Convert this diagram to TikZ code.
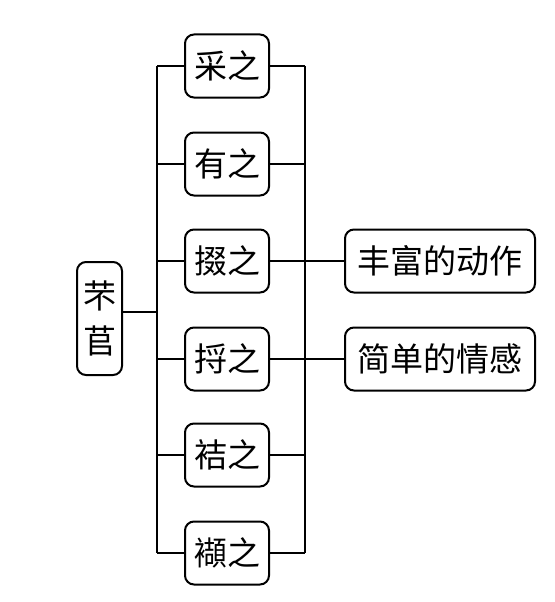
\documentclass[tikz,border=0pt]{standalone}
\usepackage{fontspec}
\newfontfamily\cjk{Noto Sans CJK SC}
\usepackage{tikz}
\tikzset{
    box/.style={draw, rounded corners=9pt, line width=2pt, inner sep=0pt,
        minimum height=63pt, font=\cjk\fontsize{33}{45}\selectfont},
    short/.style={box, minimum width=84pt},
    long/.style={box, minimum width=190pt},
    wire/.style={line width=2pt}
}

\begin{document}
\begin{tikzpicture}[x=1pt, y=-1pt]
        \useasboundingbox (0,0) rectangle (554,602);
        \coordinate (lb) at (157,0); % left bus
        \coordinate (rb) at (305,0); % right bus
        \node[box, minimum width=45pt, minimum height=113pt, align=center] (root) at (99.5,318.5) {芣\\苢};
        \foreach \name/\txt/\y in {c1/采之/66, c2/有之/164, c3/掇之/261, c4/捋之/359, c5/袺之/455, c6/襭之/553} {
            \node[short] (\name) at (227,\y) {\txt};
            \draw[wire] (\name.west) -- (\name.west -| lb);
            \draw[wire] (\name.east) -- (\name.east -| rb);
        }
        \node[long] (d1) at (440,261) {丰富的动作};
        \node[long] (d2) at (440,359) {简单的情感};
        \draw[wire] ([yshift=6.5pt]root.east) -- ([yshift=6.5pt]root.east -| lb);
        \draw[wire] (c1.west -| lb) -- (c6.west -| lb);
        \draw[wire] (c1.east -| rb) -- (c6.east -| rb);
        \draw[wire] (d1.west) -- (d1.west -| rb);
        \draw[wire] (d2.west) -- (d2.west -| rb);
    \end{tikzpicture}
\end{document}
